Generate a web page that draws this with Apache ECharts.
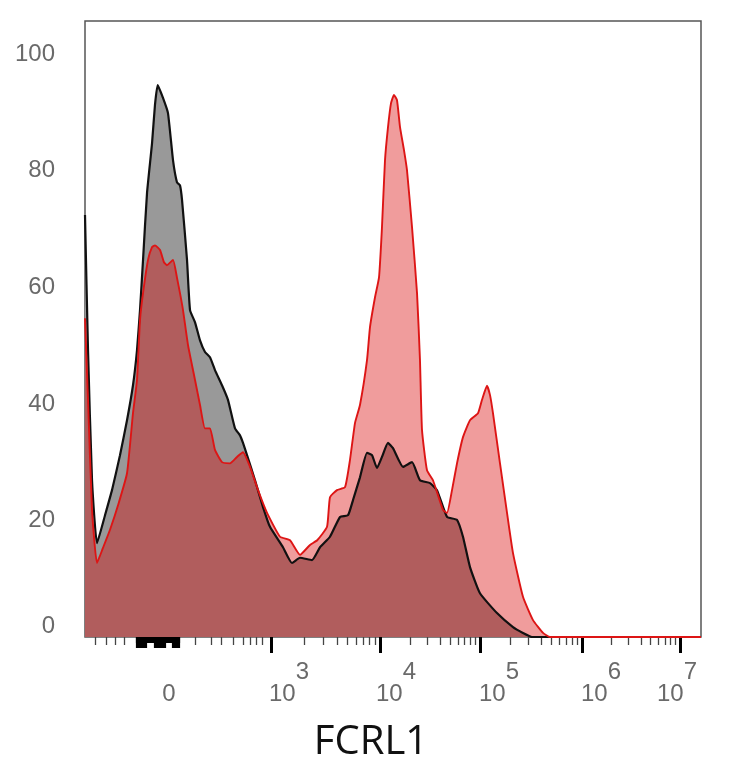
<!DOCTYPE html>
<html><head><meta charset="utf-8">
<script src="https://cdn.jsdelivr.net/npm/echarts@6/dist/echarts.min.js"></script>
<style>html,body{margin:0;padding:0;background:#fff}#c{width:734px;height:768px}</style>
</head><body><div id="c"></div>
<script>
// x values are display channels (0..1000) of the biexponential FCRL1 axis
const isoX = [0,4.9,11.4,19.5,32.5,43.8,56.8,68.2,77.9,84.4,89.3,94.2,100.7,108.8,113.6,118.0,126.6,134.7,142.9,149.4,154.2,157.5,165.6,170.5,178.6,186.7,194.8,202.9,211.0,222.4,232.1,243.5,251.6,256.5,263.0,276.0,289.0,300.3,321.4,336.0,349.0,368.5,381.5,397.7,414.0,427.0,435.1,446.4,457.8,465.9,474.0,482.1,491.9,500.0,516.2,530.9,543.8,560.1,571.4,587.7,603.9,613.6,625.0,641.2,668.8,694.8,711.0,725.7,1000];
const isoY = [72.4,49.2,26.9,16.1,20.9,25.2,31.2,37.2,43.2,49.2,56.1,64.7,76.2,84.7,91.3,94.7,92.5,89.9,81.8,78.0,77.5,75.0,64.7,56.1,54.0,50.9,48.9,48.0,45.8,43.2,40.7,35.8,34.6,33.3,31.2,26.9,22.3,18.9,15.4,12.7,13.6,13.2,15.4,17.2,20.6,20.9,23.5,27.4,31.6,31.2,29.0,30.9,33.3,32.4,29.2,30.0,26.9,26.4,25.2,20.6,20.1,17.2,12.0,7.5,4.1,1.7,0.7,0,0];
const fcrlX = [0,4.9,11.4,19.5,29.2,40.6,53.6,68.2,77.9,84.4,89.3,94.2,102.3,108.8,113.6,121.8,128.2,133.1,142.9,149.4,154.2,159.1,167.2,178.6,186.7,194.8,202.9,211.0,222.4,235.4,246.8,256.5,267.9,280.9,295.5,316.6,332.8,349.0,365.3,377.0,392.9,397.7,409.1,422.1,430.2,438.3,446.4,457.8,462.7,470.8,477.3,482.1,487.0,491.9,496.8,501.6,506.5,511.4,517.9,522.7,530.9,539.0,543.8,547.1,555.2,564.9,581.2,587.7,595.8,603.9,613.6,625.0,638.0,644.5,652.6,657.5,662.3,673.7,685.1,694.8,711.0,727.3,743.5,754.9,1000];
const fcrlY = [54.7,40.7,21.8,12.7,15.3,18.4,22.6,28.1,38.4,44.1,54.4,59.0,64.7,66.9,67.2,66.4,64.3,63.8,64.7,61.6,59.0,56.1,50.1,44.1,39.8,35.8,35.8,32.1,30.0,29.8,30.9,31.7,29.2,25.2,21.3,17.2,16.6,14.1,15.8,16.6,18.9,24.0,25.2,25.7,30.4,36.7,39.8,47.5,53.2,58.3,61.7,70.3,81.8,87.5,91.6,93.0,92.1,87.5,83.5,80.1,70.3,59.0,47.5,35.5,28.6,26.9,21.8,21.3,25.2,29.8,34.3,37.2,38.4,40.7,43.1,41.5,38.4,29.8,21.3,14.4,6.9,2.9,0.7,0,0];

// axis decoration (channels)
const majorTicks = [302.8, 478.9, 641.2, 806.8, 965.9];        // 10^3 .. 10^7
const lowTicks = [16.2, 34.1, 48.7, 63.3, 178.6, 205.7, 221.9, 240.8, 257.0, 267.9, 278.7, 288.5];
const clusterRange = [84.4, 154.2];
const clusterLong = [[84.4, 99.0], [113.6, 129.9], [142.9, 154.2]];
const yTicks = [0, 20, 40, 60, 80, 100];
const xLabelPos = [136.4, 331.2, 504.9, 672.1, 837.7, 961.0];
const xLabelExp = ['', '3', '4', '5', '6', '7'];

const minorTicks = lowTicks.slice();
for (let i = 0; i < majorTicks.length - 1; i++) {
  for (let k = 2; k <= 9; k++) minorTicks.push(majorTicks[i] + Math.log10(k) * (majorTicks[i + 1] - majorTicks[i]));
}
const clusterTicks = [];
for (let v = clusterRange[0]; v <= clusterRange[1] + 0.01; v += 2) clusterTicks.push(v);
const clusterLongTicks = [];
clusterLong.forEach(r => { for (let v = r[0]; v <= r[1] + 0.01; v += 2) clusterLongTicks.push(v); });

const FONT = 'Liberation Sans';
const LBL = '#6a6a6a';
function tickAxis(vals, len, width, color) {
  return {
    type: 'value', min: 0, max: 1000, position: 'bottom',
    axisLine: { show: false }, splitLine: { show: false },
    axisLabel: { show: false },
    axisTick: { show: true, customValues: vals, length: len, lineStyle: { width: width, color: color } }
  };
}

const chart = echarts.init(document.getElementById('c'), null, { renderer: 'canvas' });
chart.setOption({
  animation: false,
  backgroundColor: '#fff',
  grid: { left: 85, right: 33, top: 21, bottom: 131, show: true, borderColor: '#555', borderWidth: 1.5, backgroundColor: 'transparent' },
  xAxis: [
    {
      type: 'value', min: 0, max: 1000, position: 'bottom',
      axisLine: { show: false }, axisTick: { show: false }, splitLine: { show: false }, axisLabel: { show: false },
      name: 'FCRL1', nameLocation: 'middle', nameGap: 86,
      nameTextStyle: { fontFamily: 'Open Sans', fontSize: 40, color: '#111', padding: [0, 44, 0, 0] }
    },
    tickAxis(minorTicks, 8, 1.3, '#444'),
    tickAxis(clusterTicks, 6, 2.2, '#000'),
    tickAxis(clusterLongTicks, 11, 2.2, '#000'),
    tickAxis(majorTicks, 16, 3, '#000'),
    {
      type: 'value', min: 0, max: 1000, position: 'bottom',
      axisLine: { show: false }, axisTick: { show: false }, splitLine: { show: false },
      axisLabel: {
        show: true, customValues: xLabelPos, margin: 23, align: 'center',
        formatter: function (v) {
          let bi = 0, bd = 1e9;
          xLabelPos.forEach((p, i) => { const d = Math.abs(p - v); if (d < bd) { bd = d; bi = i; } });
          const e = xLabelExp[bi];
          return e ? '{b|10}{s|' + e + '}' : '{b|0}';
        },
        rich: {
          b: { fontFamily: FONT, fontSize: 24, color: LBL, padding: [22, 0, 0, 0] },
          s: { fontFamily: FONT, fontSize: 24, color: LBL, padding: [0, 0, 22, 0] }
        }
      }
    }
  ],
  yAxis: {
    type: 'value', min: 0, max: 105.7, interval: 20,
    axisLine: { show: false }, axisTick: { show: false }, splitLine: { show: false },
    axisLabel: {
      margin: 30, fontFamily: FONT, fontSize: 24, color: LBL,
      customValues: yTicks,
      formatter: function (v) { return v === 0 ? '{z|0}' : '{n|' + v + '}'; },
      rich: {
        z: { fontFamily: FONT, fontSize: 24, color: LBL, padding: [0, 0, 22, 0] },
        n: { fontFamily: FONT, fontSize: 24, color: LBL }
      }
    }
  },
  series: [
    {
      name: 'Isotype', type: 'line', xAxisIndex: 0, showSymbol: false, smooth: 0.15,
      data: isoX.map((x, i) => [x, isoY[i]]),
      lineStyle: { color: '#111', width: 2.2 },
      areaStyle: { color: '#999999', opacity: 1 }
    },
    {
      name: 'FCRL1', type: 'line', xAxisIndex: 0, showSymbol: false, smooth: 0.15,
      data: fcrlX.map((x, i) => [x, fcrlY[i]]),
      lineStyle: { color: '#dd1515', width: 1.9 },
      areaStyle: { color: 'rgba(217,0,0,0.39)', opacity: 1 }
    }
  ]
});
</script></body></html>
